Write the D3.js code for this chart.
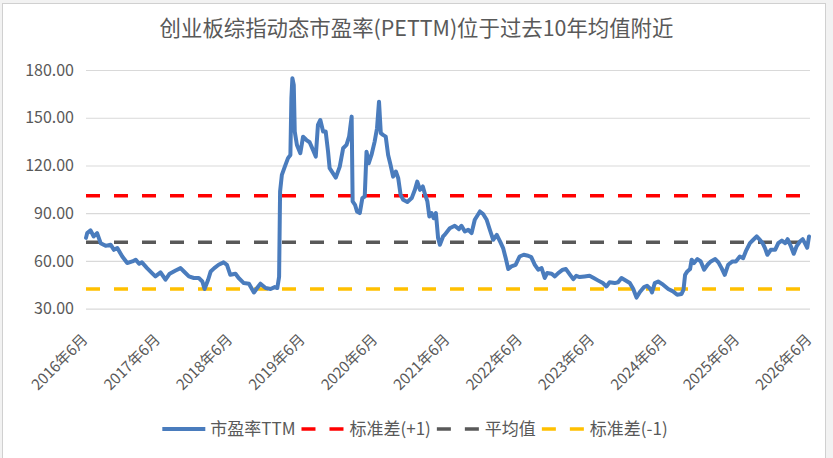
<!DOCTYPE html>
<html><head><meta charset="utf-8">
<script src="https://cdn.jsdelivr.net/npm/d3@7"></script>
<style>
body{margin:0;background:#f2f2f2}
svg{display:block}
text{font-family:"Noto Sans CJK SC","Microsoft YaHei",sans-serif}
</style>
</head><body>
<svg id="c" width="833" height="458"></svg>
<script>
const titleText = "创业板综指动态市盈率(PETTM)位于过去10年均值附近";

const dates = [
"2016-06-01","2016-06-07","2016-06-24","2016-07-10","2016-07-27","2016-08-14","2016-09-08","2016-10-03","2016-10-20","2016-11-06",
"2016-12-01","2016-12-26","2017-01-21","2017-02-07","2017-02-24","2017-03-10","2017-04-05","2017-04-30","2017-05-17","2017-06-12",
"2017-07-07","2017-07-28","2017-08-27","2017-09-21","2017-10-08","2017-11-02","2017-11-27","2017-12-22","2018-01-09","2018-01-20",
"2018-02-07","2018-02-20","2018-03-10","2018-04-01","2018-04-26","2018-05-13","2018-05-30","2018-06-25","2018-07-11","2018-08-06",
"2018-09-01","2018-09-26","2018-10-12","2018-10-29","2018-11-24","2018-12-19","2019-01-09","2019-01-22","2019-01-31","2019-02-05",
"2019-02-14","2019-03-01","2019-03-17","2019-03-29","2019-04-03","2019-04-08","2019-04-15","2019-04-20","2019-05-01","2019-05-18",
"2019-06-01","2019-06-18","2019-07-04","2019-07-21","2019-08-04","2019-08-15","2019-08-27","2019-09-10","2019-09-23","2019-10-05",
"2019-10-13","2019-10-30","2019-11-13","2019-12-03","2019-12-20","2020-01-06","2020-01-19","2020-02-01","2020-02-06","2020-02-18",
"2020-02-28","2020-03-13","2020-03-26","2020-04-07","2020-04-16","2020-04-27","2020-05-11","2020-05-27","2020-06-08","2020-06-18",
"2020-06-27","2020-07-08","2020-07-22","2020-08-03","2020-08-15","2020-08-28","2020-09-11","2020-09-23","2020-10-05","2020-10-18",
"2020-11-08","2020-11-30","2020-12-16","2020-12-28","2021-01-11","2021-01-25","2021-02-06","2021-02-17","2021-02-27","2021-03-10",
"2021-03-21","2021-04-01","2021-04-12","2021-04-21","2021-05-07","2021-05-15","2021-06-10","2021-07-05","2021-07-26","2021-08-08",
"2021-08-25","2021-09-11","2021-09-28","2021-10-14","2021-11-09","2021-11-25","2021-12-13","2021-12-29","2022-01-15","2022-02-02",
"2022-02-19","2022-03-06","2022-03-19","2022-04-01","2022-04-17","2022-05-08","2022-05-28","2022-06-18","2022-07-10","2022-07-26",
"2022-08-13","2022-08-30","2022-09-16","2022-10-02","2022-10-14","2022-11-06","2022-11-22","2022-12-09","2023-01-01","2023-01-17",
"2023-02-07","2023-02-23","2023-03-10","2023-03-27","2023-04-21","2023-05-16","2023-06-06","2023-06-27","2023-07-22","2023-08-09",
"2023-08-25","2023-09-20","2023-10-07","2023-10-24","2023-11-10","2023-12-05","2023-12-22","2024-01-08","2024-01-25","2024-02-15",
"2024-03-01","2024-03-18","2024-03-26","2024-04-09","2024-04-26","2024-05-21","2024-06-16","2024-07-10","2024-07-31","2024-08-22",
"2024-09-01","2024-09-09","2024-09-20","2024-10-04","2024-10-12","2024-10-24","2024-11-10","2024-11-27","2024-12-14","2024-12-31",
"2025-01-17","2025-02-08","2025-02-24","2025-03-12","2025-03-28","2025-04-14","2025-05-06","2025-05-23","2025-06-12","2025-06-29",
"2025-07-12","2025-08-02","2025-08-19","2025-09-05","2025-09-18","2025-10-05","2025-10-17","2025-10-29","2025-11-15","2025-12-07",
"2025-12-23","2026-01-10","2026-01-27","2026-02-08","2026-02-25","2026-03-11","2026-03-25","2026-04-11","2026-04-25","2026-05-06",
"2026-05-18","2026-05-27"
];
const peValues = [
74.5,77.5,79.2,75.4,77.5,71.2,69.5,70.2,67.0,68.1,
62.8,58.7,59.7,60.8,58.2,59.1,55.5,52.4,50.3,52.8,
48.2,52.0,54.0,55.5,53.4,50.3,49.3,49.3,47.1,42.4,
48.2,53.4,55.5,57.6,59.1,57.6,51.3,52.0,49.3,46.1,
45.7,40.2,43.0,45.7,43.0,42.4,43.6,43.0,50.0,103.6,
114.1,119.3,124.6,126.6,162.2,174.8,170.6,141.3,132.9,127.7,
138.1,136.0,134.6,129.8,125.6,145.5,148.6,141.3,141.3,128.7,
118.3,115.1,112.4,119.3,130.8,132.9,138.1,150.7,97.4,95.3,
91.1,90.1,99.5,100.5,128.7,121.4,126.6,135.0,143.4,160.1,
140.3,139.2,138.1,126.6,120.4,113.0,116.2,112.0,101.5,98.4,
97.0,99.5,104.7,109.9,104.7,106.8,101.5,97.4,87.9,90.1,
86.9,90.1,74.4,70.2,75.4,76.4,80.6,82.1,80.0,82.1,
78.5,79.6,77.5,85.9,91.1,89.5,85.9,79.6,73.3,76.4,
72.2,68.1,61.8,54.9,56.6,57.6,62.8,63.9,63.3,62.4,
57.6,54.5,55.5,49.3,52.4,52.0,50.3,52.4,54.5,54.9,
51.3,48.6,50.7,49.9,50.3,50.7,49.3,47.8,46.1,44.0,
46.6,46.1,46.6,49.3,48.0,46.1,42.5,37.0,40.5,43.6,
44.4,42.4,40.2,46.1,47.1,45.1,42.4,40.9,38.8,39.2,
42.0,51.3,53.4,54.9,60.8,58.7,61.2,59.7,54.5,57.6,
59.7,61.2,59.1,55.5,51.3,57.6,59.7,59.7,62.8,61.8,
66.0,71.2,73.3,75.4,73.7,71.2,68.1,63.9,67.0,67.0,
71.2,72.8,71.2,73.7,69.1,64.5,69.1,72.2,73.7,71.2,
68.3,75.4
];
const stdPlusValue = 100.9;
const meanValue = 71.7;
const stdMinusValue = 42.4;
const yTickValues = [30, 60, 90, 120, 150, 180];
const xTickDates = ["2016-06-01","2017-06-01","2018-06-01","2019-06-01","2020-06-01","2021-06-01","2022-06-01","2023-06-01","2024-06-01","2025-06-01","2026-06-01"];
const xTickLabels = ["2016年6月","2017年6月","2018年6月","2019年6月","2020年6月","2021年6月","2022年6月","2023年6月","2024年6月","2025年6月","2026年6月"];
const seriesNames = ["市盈率TTM","标准差(+1)","平均值","标准差(-1)"];

const parse = d3.timeParse("%Y-%m-%d");
const svg = d3.select("#c");
const L = 86, R = 810, T = 70, B = 308.7;

// frame
svg.append("rect").attr("x", 2.5).attr("y", 3.5).attr("width", 823).attr("height", 460)
  .attr("fill", "#fff").attr("stroke", "#d0d0d0");

const x = d3.scaleTime().domain([parse("2016-06-01"), parse("2026-06-01")]).range([L, R]);
const y = d3.scaleLinear().domain([30, 180]).range([B, T]);

// title
svg.append("text").attr("x", 416.5).attr("y", 36).attr("text-anchor", "middle")
  .attr("fill", "#595959").attr("font-size", 21.4).text(titleText);

// y gridlines + labels
const yAxis = d3.axisLeft(y).tickValues(yTickValues).tickSize(-(R - L)).tickFormat(d3.format(".2f"));
const gy = svg.append("g").attr("transform", `translate(${L},0)`).call(yAxis);
gy.select(".domain").remove();
gy.selectAll(".tick line").attr("stroke", "#d9d9d9").attr("stroke-width", 1.2);
gy.selectAll(".tick text").attr("x", -12).attr("fill", "#595959").attr("font-size", 16)
  .style("font-family", '"Noto Sans CJK SC",sans-serif');

// x labels
const xt = xTickDates.map(parse);
svg.append("g").selectAll("text").data(xt).join("text")
  .attr("transform", d => `translate(${x(d) - 1},${B + 28}) rotate(-45)`)
  .attr("text-anchor", "end").attr("dy", "0.35em")
  .attr("fill", "#595959").attr("font-size", 15)
  .text((d, i) => xTickLabels[i]);

// reference lines
const refs = [
  {v: stdPlusValue, c: "#ff0000"},
  {v: meanValue, c: "#595959"},
  {v: stdMinusValue, c: "#ffc000"}
];
svg.append("g").selectAll("line").data(refs).join("line")
  .attr("x1", L).attr("x2", R).attr("y1", d => y(d.v)).attr("y2", d => y(d.v))
  .attr("stroke", d => d.c).attr("stroke-width", 3.5).attr("stroke-dasharray", "14,14");

// PE line
const data = dates.map((d, i) => ({d: parse(d), v: peValues[i]}));
svg.append("path").datum(data)
  .attr("fill", "none").attr("stroke", "#4a7cbd").attr("stroke-width", 4)
  .attr("stroke-linejoin", "round").attr("stroke-linecap", "round")
  .attr("d", d3.line().x(d => x(d.d)).y(d => y(d.v)));

// legend
const legendItems = [
  {name: seriesNames[0], c: "#4a7cbd", dash: null, w: 4},
  {name: seriesNames[1], c: "#ff0000", dash: "14,14", w: 3.5},
  {name: seriesNames[2], c: "#595959", dash: "14,14", w: 3.5},
  {name: seriesNames[3], c: "#ffc000", dash: "14,14", w: 3.5}
];
const lg = svg.append("g");
const ly = 429;
let cx = 0;
const items = [];
legendItems.forEach(it => {
  const g = lg.append("g");
  g.append("line").attr("x1", 0).attr("x2", 43).attr("y1", 0).attr("y2", 0)
    .attr("stroke", it.c).attr("stroke-width", it.w).attr("stroke-dasharray", it.dash);
  const t = g.append("text").attr("x", 48).attr("dy", "0.35em").attr("fill", "#595959")
    .attr("font-size", 17).text(it.name);
  const tw = t.node().getComputedTextLength();
  items.push({g, off: cx});
  cx += 48 + tw + 6;
});
const total = cx - 6;
const start = 415 - total / 2;
items.forEach(o => o.g.attr("transform", `translate(${start + o.off},${ly})`));
</script>
</body></html>
